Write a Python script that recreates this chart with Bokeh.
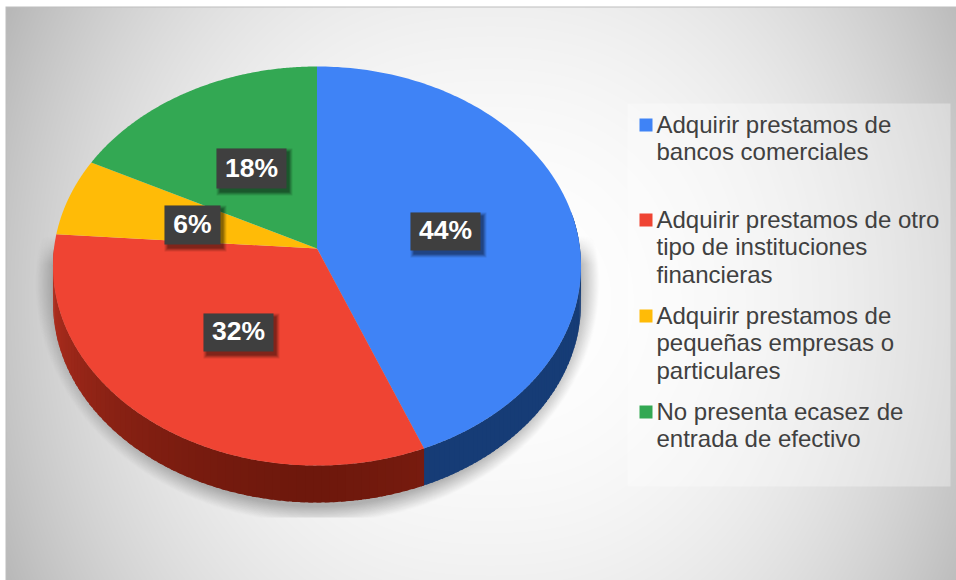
import numpy as np
from bokeh.plotting import figure
from bokeh.models import Range1d
from bokeh.core.properties import value
from bokeh.embed import file_html
from bokeh.resources import INLINE

categories = ["Adquirir prestamos de bancos comerciales",
              "Adquirir prestamos de otro tipo de instituciones financieras",
              "Adquirir prestamos de pequeñas empresas o particulares",
              "No presenta ecasez de entrada de efectivo"]
legend_lines = [["Adquirir prestamos de", "bancos comerciales"],
                ["Adquirir prestamos de otro", "tipo de instituciones", "financieras"],
                ["Adquirir prestamos de", "pequeñas empresas o", "particulares"],
                ["No presenta ecasez de", "entrada de efectivo"]]
shares = [43.9, 32.25, 6.3, 17.55]
top_colors = ["#3f83f6", "#ef4433", "#ffbb07", "#33a853"]
label_texts = ["44%", "32%", "6%", "18%"]

W, H = 956, 580


def X(px):
    return np.asarray(px, dtype=float)


def Y(py):
    return H - np.asarray(py, dtype=float)


CX, CY, A, B, K, DEPTH = 316.5, 248.0, 198.0, 263.0, 0.0878, 37.0


def rim(theta):
    u, v = np.sin(theta), np.cos(theta)
    w = 1 + K * v
    return CX + B * u / w, CY - A * v / w


p = figure(width=W, height=H, x_range=Range1d(0, W), y_range=Range1d(0, H),
           output_backend="svg", toolbar_location=None, min_border=0,
           x_axis_type=None, y_axis_type=None, outline_line_color=None,
           background_fill_color="white", border_fill_color="white")
p.grid.visible = False

# backdrop gradient inside the slide frame
yy, xx = np.mgrid[0:H, 0:W]
g = 255 - 52 * (np.abs(xx - 490) / 470.0) ** 2.4 - 16 * (np.abs(yy - 300) / 294.0) ** 2
g = np.clip(g, 0, 255)
g = np.where((xx >= 5) & (yy >= 6), g, 255.0)
g = np.where(((xx == 5) & (yy >= 6)) | ((yy == 6) & (xx >= 5)), 190.0, g)


def rgba(gray, alpha):
    img = np.zeros((gray.shape[0], gray.shape[1]), dtype=np.uint32)
    v = img.view(dtype=np.uint8).reshape((gray.shape[0], gray.shape[1], 4))
    v[..., 0] = v[..., 1] = v[..., 2] = np.uint8(gray)
    v[..., 3] = np.uint8(alpha)
    return img[::-1]


p.image_rgba(image=[rgba(g, np.full_like(g, 255.0))], x=0, y=0, dw=W, dh=H)

# soft shadow under the disc
dd = np.sqrt(((xx - 316.5) / 282.0) ** 2 + ((yy - 282) / 240.0) ** 2)
sa = np.clip((1 - dd) / 0.07, 0, 1) * 130
sa = sa * np.clip((yy - 235) / 28.0, 0, 1) * (yy < 517)
p.image_rgba(image=[rgba(np.full_like(g, 110.0), sa)], x=0, y=0, dw=W, dh=H)

# legend panel
p.quad(left=X([627]), right=X([950]), top=Y([103]), bottom=Y([486]),
       fill_color="white", fill_alpha=0.33, line_color=None)

# side wall, drawn as overlapping facets so the shade can vary around the rim
fr = np.cumsum([0] + shares) / sum(shares) * 2 * np.pi
sx, sy, sc = [], [], []


def hexc(c):
    return "#%02x%02x%02x" % tuple(int(round(x)) for x in c)


spans = [(np.pi * 0.44, fr[1], (22, 60, 118), (22, 60, 118)),
         (fr[1], 3 * np.pi / 2, (110, 24, 12), (186, 50, 34))]
for start, end, near, far in spans:
    t = np.linspace(start, end, 70)
    for a, b in zip(t[:-1], t[1:]):
        x1, y1 = rim(a)
        x2, y2 = rim(b + (t[1] - t[0]) * 0.6)
        sx.append(X([x1, x2, x2, x1]))
        sy.append(Y([y1, y2, y2 + DEPTH, y1 + DEPTH]))
        f = np.clip(abs(a - np.pi) / (np.pi / 2), 0, 1) ** 1.5
        sc.append(hexc([n + (m - n) * f for n, m in zip(near, far)]))
p.patches(sx, sy, fill_color=sc, line_color=None)

# top surface
xs, ys = [], []
for i in range(len(shares)):
    t = np.linspace(fr[i], fr[i + 1], 160)
    x, y = rim(t)
    xs.append(X(np.r_[CX, x]))
    ys.append(Y(np.r_[CY, y]))
p.patches(xs, ys, fill_color=top_colors, line_color=None)

# value labels
lab_l = np.array([410, 203, 164, 216])
lab_r = np.array([480, 273, 220, 286])
lab_t = np.array([212, 313, 205, 148])
lab_b = np.array([250, 351, 244, 188])
for k, al in ((5, 0.10), (4, 0.12), (3, 0.15), (2, 0.2)):
    p.quad(left=X(lab_l + 5 - k), right=X(lab_r + 1 + k),
           top=Y(lab_t + 5 - k), bottom=Y(lab_b + 2 + k),
           fill_color="#000000", fill_alpha=al, line_color=None)
p.quad(left=X(lab_l), right=X(lab_r), top=Y(lab_t), bottom=Y(lab_b),
       fill_color="#3f3f3f", line_color=None)
p.text(x=X((lab_l + lab_r) / 2), y=Y(lab_b - 20.5),
       text=label_texts, text_font=value("Liberation Sans"), text_font_style="bold",
       text_font_size="26.5px", text_color="white", text_align="center",
       text_baseline="alphabetic")

# legend
mark_top = [118, 213, 309, 405]
for top, col, lines in zip(mark_top, top_colors, legend_lines):
    p.quad(left=X([639]), right=X([652]), top=Y([top]), bottom=Y([top + 13]), fill_color=col, line_color=None)
    p.text(x=X([656] * len(lines)), y=Y([top + 5.5 + 27.5 * j for j in range(len(lines))]), text=lines,
           text_font=value("Liberation Sans"), text_font_size="24px", text_color="#404040",
           text_align="left", text_baseline="alphabetic")

open("out.html", "w").write(file_html(p, INLINE))
